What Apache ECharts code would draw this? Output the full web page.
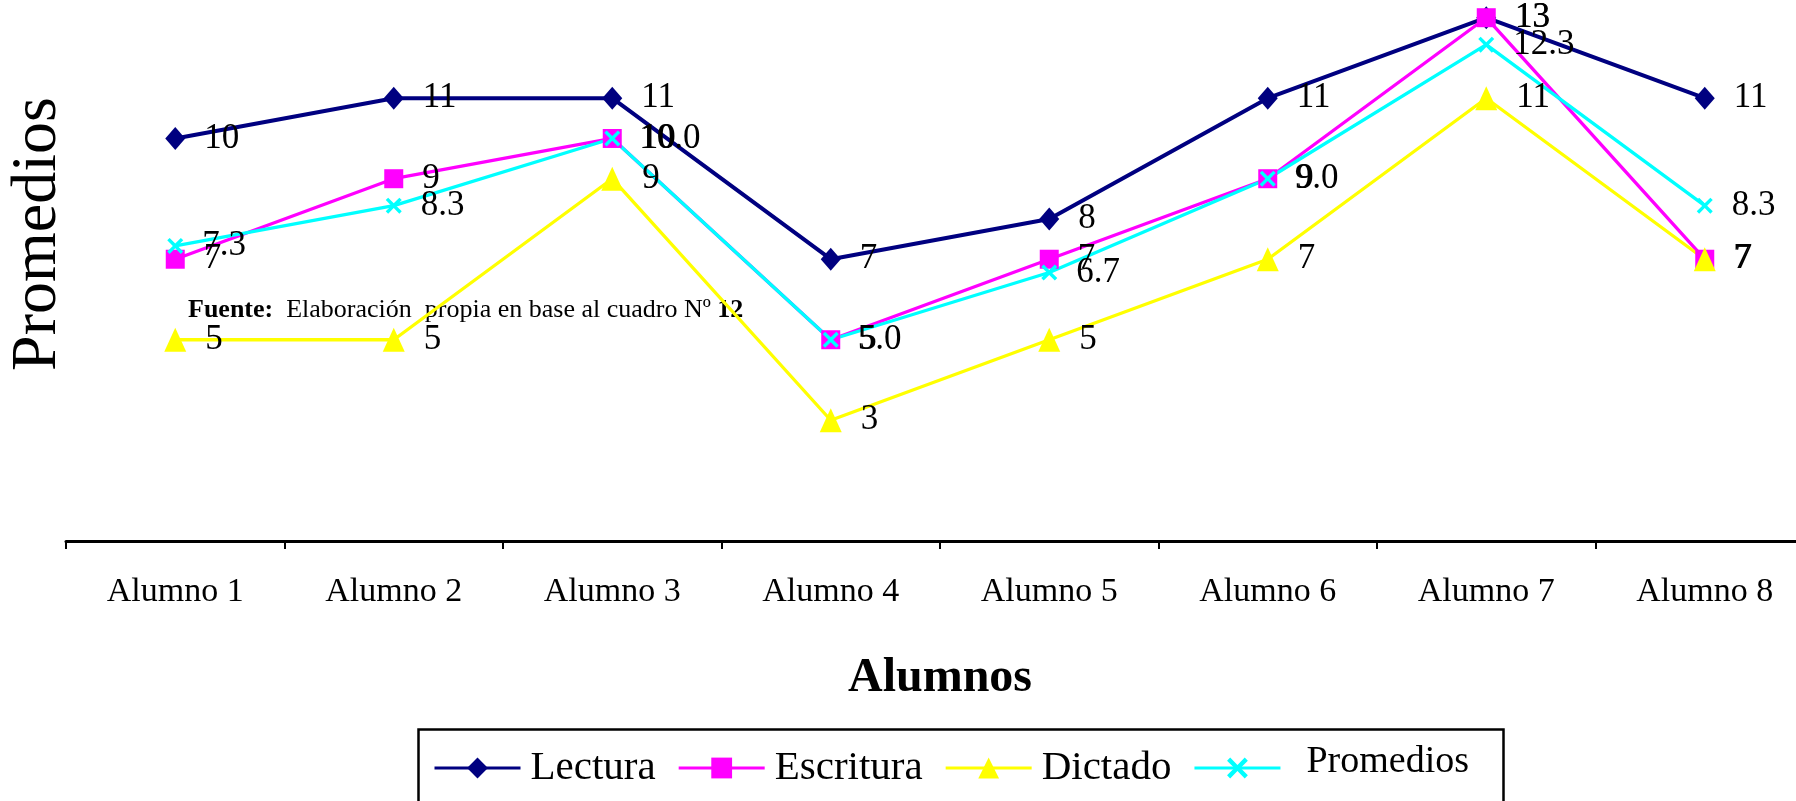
<!DOCTYPE html>
<html>
<head>
<meta charset="utf-8">
<script src="https://cdn.jsdelivr.net/npm/echarts@6/dist/echarts.min.js"></script>
<style>
html,body{margin:0;padding:0;background:#fff;}
#chart{width:1796px;height:801px;}
</style>
</head>
<body>
<div id="chart"></div>
<script>
const categories = ['Alumno 1','Alumno 2','Alumno 3','Alumno 4','Alumno 5','Alumno 6','Alumno 7','Alumno 8'];
const lectura   = [10, 11, 11, 7, 8, 11, 13, 11];
const escritura = [7, 9, 10, 5, 7, 9, 13, 7];
const dictado   = [5, 5, 9, 3, 5, 7, 11, 7];
const promedios = [7.33, 8.33, 10.0, 5.0, 6.67, 9.0, 12.33, 8.33];
const seriesNames = ['Lectura','Escritura','Dictado','Promedios'];

const FONT = '"Liberation Serif", "Times New Roman", serif';
const crossPath = 'path://M0,1.5L1.5,0L5,3.5L8.5,0L10,1.5L6.5,5L10,8.5L8.5,10L5,6.5L1.5,10L0,8.5L3.5,5Z';

function mkLabel(dec){
  return {
    show: true, position: 'right', distance: 19,
    color: '#000', fontFamily: FONT, fontSize: 35,
    formatter: p => dec ? Number(p.value).toFixed(1) : String(p.value)
  };
}

const chart = echarts.init(document.getElementById('chart'), null, {renderer:'canvas'});
chart.setOption({
  backgroundColor: '#fff',
  animation: false,
  grid: { left: 66, top: 0, right: -18, height: 541, containLabel: false, outerBoundsMode: 'none' },
  xAxis: {
    type: 'category', data: categories, boundaryGap: true,
    axisLine: { show: true, lineStyle: { color: '#000', width: 3 } },
    axisTick: { show: true, length: 8, lineStyle: { color: '#000', width: 2 } },
    axisLabel: { color: '#000', fontFamily: FONT, fontSize: 34, margin: 34 },
    name: 'Alumnos', nameLocation: 'middle', nameGap: 114,
    nameTextStyle: { color: '#000', fontFamily: FONT, fontSize: 48, fontWeight: 'bold' }
  },
  yAxis: {
    type: 'value', min: 0, max: 13.44,
    axisLine: { show: false }, axisTick: { show: false },
    axisLabel: { show: false }, splitLine: { show: false }
  },
  legend: {
    left: 433, top: 743, padding: 0,
    itemWidth: 86, itemHeight: 26, itemGap: 21.5,
    lineStyle: { width: 3 },
    textStyle: { color: '#000', fontFamily: FONT, fontSize: 41,
      rich: {
        n: { fontFamily: FONT, fontSize: 41, color: '#000', padding: [0,0,0,5] },
        p: { fontFamily: FONT, fontSize: 38, color: '#000', padding: [0,0,12,21] }
      } },
    formatter: name => name === 'Promedios' ? '{p|' + name + '}' : '{n|' + name + '}',
    data: seriesNames
  },
  graphic: [
    { type: 'rect', left: 416, top: 727, shape: { x: 0, y: 0, width: 1085, height: 74 },
      style: { fill: 'none', stroke: '#000', lineWidth: 2.5 }, z: 10, silent: true },
    { type: 'text', x: 38, y: 234, rotation: Math.PI/2,
      style: { text: 'Promedios', fill: '#000', font: '64px ' + FONT, align: 'center', verticalAlign: 'middle' } },
    { type: 'text', x: 188, y: 310,
      style: { text: '{b|Fuente:}  Elaboración  propia en base al cuadro Nº {b|12}', fill: '#000',
        font: '26px ' + FONT, verticalAlign: 'middle',
        rich: { b: { fontFamily: FONT, fontSize: 26, fontWeight: 'bold', fill: '#000' } } } }
  ],
  series: [
    { name: 'Lectura', type: 'line', data: lectura, symbol: 'diamond', symbolSize: [20, 23],
      color: '#000080', lineStyle: { color: '#000080', width: 4 }, itemStyle: { color: '#000080' },
      label: mkLabel(false), clip: false },
    { name: 'Escritura', type: 'line', data: escritura, symbol: 'rect', symbolSize: 19,
      color: '#FF00FF', lineStyle: { color: '#FF00FF', width: 3.3 }, itemStyle: { color: '#FF00FF' },
      label: mkLabel(false), clip: false },
    { name: 'Dictado', type: 'line', data: dictado, symbol: 'triangle', symbolSize: [22, 24],
      color: '#FFFF00', lineStyle: { color: '#FFFF00', width: 3.3 }, itemStyle: { color: '#FFFF00' },
      label: mkLabel(false), clip: false },
    { name: 'Promedios', type: 'line', data: promedios, symbol: crossPath, symbolSize: 16,
      color: '#00FFFF', lineStyle: { color: '#00FFFF', width: 3.3 }, itemStyle: { color: '#00FFFF' },
      label: mkLabel(true), clip: false }
  ]
});
</script>
</body>
</html>
